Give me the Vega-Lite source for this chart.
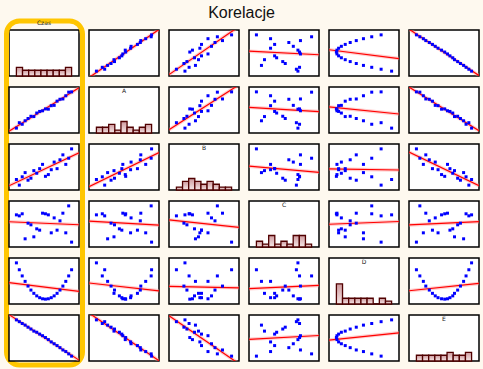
{
"$schema":"https://vega.github.io/schema/vega-lite/v6.json",
"background":"#fef9ef",
"padding":{"left":3,"top":5,"right":3,"bottom":2},
"title":{"text":"Korelacje","fontSize":16,"font":"Liberation Sans","fontWeight":"normal","color":"#111111","offset":-3.5,"anchor":"middle"},
"datasets":{
"d":[
{"Czas":1,"A":10.6,"B":22.8,"C":69.9,"D":100,"E":89.4},
{"Czas":2,"A":22.4,"B":10.6,"C":67.7,"D":81,"E":85.5},
{"Czas":3,"A":19.0,"B":28.7,"C":72.2,"D":64,"E":81.5},
{"Czas":4,"A":26.6,"B":37.8,"C":17.8,"D":49,"E":78.0},
{"Czas":5,"A":31.5,"B":21.3,"C":51.8,"D":36,"E":73.5},
{"Czas":6,"A":36.4,"B":25.6,"C":48.2,"D":25,"E":69.5},
{"Czas":7,"A":35.7,"B":42.1,"C":22.1,"D":16,"E":65.0},
{"Czas":8,"A":43.4,"B":36.4,"C":39.5,"D":9,"E":62.5},
{"Czas":9,"A":46.9,"B":46.4,"C":36.6,"D":4,"E":58.5},
{"Czas":10,"A":48.3,"B":55.7,"C":73.5,"D":1,"E":55.0},
{"Czas":11,"A":52.4,"B":29.7,"C":72.2,"D":0,"E":51.0},
{"Czas":12,"A":51.8,"B":33.5,"C":69.9,"D":1,"E":46.5},
{"Czas":13,"A":59.4,"B":44.1,"C":30.8,"D":4,"E":41.5},
{"Czas":14,"A":60.1,"B":60.7,"C":63.3,"D":9,"E":37.5},
{"Czas":15,"A":69.2,"B":46.4,"C":36.6,"D":16,"E":33.5},
{"Czas":16,"A":73.3,"B":65.7,"C":56.9,"D":25,"E":29.0},
{"Czas":17,"A":74.0,"B":76.4,"C":73.5,"D":36,"E":24.0},
{"Czas":18,"A":81.0,"B":55.7,"C":30.8,"D":49,"E":20.5},
{"Czas":19,"A":88.8,"B":69.1,"C":89.4,"D":64,"E":15.5},
{"Czas":20,"A":89.4,"B":89.4,"C":10.6,"D":81,"E":10.6}
],
"h":[
{"v":"Czas","lo":1,"hi":3.111,"n":3},{"v":"Czas","lo":3.111,"hi":5.222,"n":2},{"v":"Czas","lo":5.222,"hi":7.333,"n":2},{"v":"Czas","lo":7.333,"hi":9.444,"n":2},{"v":"Czas","lo":9.444,"hi":11.556,"n":2},{"v":"Czas","lo":11.556,"hi":13.667,"n":2},{"v":"Czas","lo":13.667,"hi":15.778,"n":2},{"v":"Czas","lo":15.778,"hi":17.889,"n":2},{"v":"Czas","lo":17.889,"hi":20,"n":3},
{"v":"A","lo":10.6,"hi":19.356,"n":2},{"v":"A","lo":19.356,"hi":28.111,"n":2},{"v":"A","lo":28.111,"hi":36.867,"n":3},{"v":"A","lo":36.867,"hi":45.622,"n":1},{"v":"A","lo":45.622,"hi":54.378,"n":4},{"v":"A","lo":54.378,"hi":63.133,"n":2},{"v":"A","lo":63.133,"hi":71.889,"n":1},{"v":"A","lo":71.889,"hi":80.644,"n":2},{"v":"A","lo":80.644,"hi":89.4,"n":3},
{"v":"B","lo":10.6,"hi":19.356,"n":1},{"v":"B","lo":19.356,"hi":28.111,"n":3},{"v":"B","lo":28.111,"hi":36.867,"n":4},{"v":"B","lo":36.867,"hi":45.622,"n":3},{"v":"B","lo":45.622,"hi":54.378,"n":2},{"v":"B","lo":54.378,"hi":63.133,"n":3},{"v":"B","lo":63.133,"hi":71.889,"n":2},{"v":"B","lo":71.889,"hi":80.644,"n":1},{"v":"B","lo":80.644,"hi":89.4,"n":1},
{"v":"C","lo":10.6,"hi":19.356,"n":2},{"v":"C","lo":19.356,"hi":28.111,"n":1},{"v":"C","lo":28.111,"hi":36.867,"n":4},{"v":"C","lo":36.867,"hi":45.622,"n":1},{"v":"C","lo":45.622,"hi":54.378,"n":2},{"v":"C","lo":54.378,"hi":63.133,"n":1},{"v":"C","lo":63.133,"hi":71.889,"n":4},{"v":"C","lo":71.889,"hi":80.644,"n":4},{"v":"C","lo":80.644,"hi":89.4,"n":1},
{"v":"D","lo":0,"hi":11.111,"n":7},{"v":"D","lo":11.111,"hi":22.222,"n":2},{"v":"D","lo":22.222,"hi":33.333,"n":2},{"v":"D","lo":33.333,"hi":44.444,"n":2},{"v":"D","lo":44.444,"hi":55.556,"n":2},{"v":"D","lo":55.556,"hi":66.667,"n":2},{"v":"D","lo":66.667,"hi":77.778,"n":0},{"v":"D","lo":77.778,"hi":88.889,"n":2},{"v":"D","lo":88.889,"hi":100,"n":1},
{"v":"E","lo":10.6,"hi":19.356,"n":2},{"v":"E","lo":19.356,"hi":28.111,"n":2},{"v":"E","lo":28.111,"hi":36.867,"n":2},{"v":"E","lo":36.867,"hi":45.622,"n":2},{"v":"E","lo":45.622,"hi":54.378,"n":2},{"v":"E","lo":54.378,"hi":63.133,"n":3},{"v":"E","lo":63.133,"hi":71.889,"n":2},{"v":"E","lo":71.889,"hi":80.644,"n":2},{"v":"E","lo":80.644,"hi":89.4,"n":3}
]
},
"columns":6,
"spacing":{"row":11,"column":10},
"bounds":"flush",
"concat":[
{"width":70,"height":46,"title":"Czas","layer":[
 {"data":{"name":"h"},"transform":[{"filter":"datum.v==='Czas'"}],"mark":{"type":"rect","stroke":"#500000","strokeWidth":1.3,"fill":{"gradient":"linear","x1":0,"y1":0,"x2":0,"y2":1,"stops":[{"offset":0,"color":"#cf9a9e"},{"offset":1,"color":"#f6e8e8"}]}},"encoding":{"x":{"field":"lo","type":"quantitative","scale":{"domain":[-1.55,22.55],"nice":false,"zero":false}},"x2":{"field":"hi"},"y":{"field":"n","type":"quantitative","scale":{"domain":[0,16],"nice":false}},"y2":{"datum":0}}},
 {"data":{"values":[{"frame":"Czas"}]},"mark":{"type":"rect","filled":false,"stroke":"#ffc600","strokeWidth":5,"cornerRadius":13},"encoding":{"x":{"value":-2.5},"x2":{"value":73.5},"y":{"value":-9},"y2":{"value":335}}}
]},
{"width":70,"height":46,"data":{"name":"d"},"encoding":{"x":{"field":"A","type":"quantitative","scale":{"domain":[0,100],"nice":false,"zero":false}},"y":{"field":"Czas","type":"quantitative","scale":{"domain":[-1.55,22.55],"nice":false,"zero":false}}},"layer":[{"transform":[{"regression":"Czas","on":"A","extent":[0,100]}],"mark":{"type":"line","stroke":"#ff9494","strokeWidth":3.5,"opacity":0.45,"clip":true}},{"transform":[{"regression":"Czas","on":"A","extent":[0,100]}],"mark":{"type":"line","stroke":"#ff0000","strokeWidth":1.2,"clip":true}},{"mark":{"type":"square","size":9,"fill":"#0000ff","opacity":1}}]},
{"width":70,"height":46,"data":{"name":"d"},"encoding":{"x":{"field":"B","type":"quantitative","scale":{"domain":[0,100],"nice":false,"zero":false}},"y":{"field":"Czas","type":"quantitative","scale":{"domain":[-1.55,22.55],"nice":false,"zero":false}}},"layer":[{"transform":[{"regression":"Czas","on":"B","extent":[0,100]}],"mark":{"type":"line","stroke":"#ff9494","strokeWidth":3.5,"opacity":0.45,"clip":true}},{"transform":[{"regression":"Czas","on":"B","extent":[0,100]}],"mark":{"type":"line","stroke":"#ff0000","strokeWidth":1.2,"clip":true}},{"mark":{"type":"square","size":9,"fill":"#0000ff","opacity":1}}]},
{"width":70,"height":46,"data":{"name":"d"},"encoding":{"x":{"field":"C","type":"quantitative","scale":{"domain":[0,100],"nice":false,"zero":false}},"y":{"field":"Czas","type":"quantitative","scale":{"domain":[-1.55,22.55],"nice":false,"zero":false}}},"layer":[{"transform":[{"regression":"Czas","on":"C","extent":[0,100]}],"mark":{"type":"line","stroke":"#ff9494","strokeWidth":3.5,"opacity":0.45,"clip":true}},{"transform":[{"regression":"Czas","on":"C","extent":[0,100]}],"mark":{"type":"line","stroke":"#ff0000","strokeWidth":1.2,"clip":true}},{"mark":{"type":"square","size":9,"fill":"#0000ff","opacity":1}}]},
{"width":70,"height":46,"data":{"name":"d"},"encoding":{"x":{"field":"D","type":"quantitative","scale":{"domain":[-13.4,113.4],"nice":false,"zero":false}},"y":{"field":"Czas","type":"quantitative","scale":{"domain":[-1.55,22.55],"nice":false,"zero":false}}},"layer":[{"transform":[{"regression":"Czas","on":"D","extent":[-13.4,113.4]}],"mark":{"type":"line","stroke":"#ff9494","strokeWidth":3.5,"opacity":0.45,"clip":true}},{"transform":[{"regression":"Czas","on":"D","extent":[-13.4,113.4]}],"mark":{"type":"line","stroke":"#ff0000","strokeWidth":1.2,"clip":true}},{"mark":{"type":"square","size":9,"fill":"#0000ff","opacity":1}}]},
{"width":70,"height":46,"data":{"name":"d"},"encoding":{"x":{"field":"E","type":"quantitative","scale":{"domain":[0,100],"nice":false,"zero":false}},"y":{"field":"Czas","type":"quantitative","scale":{"domain":[-1.55,22.55],"nice":false,"zero":false}}},"layer":[{"transform":[{"regression":"Czas","on":"E","extent":[0,100]}],"mark":{"type":"line","stroke":"#ff9494","strokeWidth":3.5,"opacity":0.45,"clip":true}},{"transform":[{"regression":"Czas","on":"E","extent":[0,100]}],"mark":{"type":"line","stroke":"#ff0000","strokeWidth":1.2,"clip":true}},{"mark":{"type":"square","size":9,"fill":"#0000ff","opacity":1}}]},

{"width":70,"height":46,"data":{"name":"d"},"encoding":{"x":{"field":"Czas","type":"quantitative","scale":{"domain":[-1.55,22.55],"nice":false,"zero":false}},"y":{"field":"A","type":"quantitative","scale":{"domain":[0,100],"nice":false,"zero":false}}},"layer":[{"transform":[{"regression":"A","on":"Czas","extent":[-1.55,22.55]}],"mark":{"type":"line","stroke":"#ff9494","strokeWidth":3.5,"opacity":0.45,"clip":true}},{"transform":[{"regression":"A","on":"Czas","extent":[-1.55,22.55]}],"mark":{"type":"line","stroke":"#ff0000","strokeWidth":1.2,"clip":true}},{"mark":{"type":"square","size":9,"fill":"#0000ff","opacity":1}}]},
{"width":70,"height":46,"data":{"name":"h"},"transform":[{"filter":"datum.v==='A'"}],"title":"A","mark":{"type":"rect","stroke":"#500000","strokeWidth":1.3,"fill":{"gradient":"linear","x1":0,"y1":0,"x2":0,"y2":1,"stops":[{"offset":0,"color":"#cf9a9e"},{"offset":1,"color":"#f6e8e8"}]}},"encoding":{"x":{"field":"lo","type":"quantitative","scale":{"domain":[0,100],"nice":false,"zero":false}},"x2":{"field":"hi"},"y":{"field":"n","type":"quantitative","scale":{"domain":[0,16],"nice":false}},"y2":{"datum":0}}},
{"width":70,"height":46,"data":{"name":"d"},"encoding":{"x":{"field":"B","type":"quantitative","scale":{"domain":[0,100],"nice":false,"zero":false}},"y":{"field":"A","type":"quantitative","scale":{"domain":[0,100],"nice":false,"zero":false}}},"layer":[{"transform":[{"regression":"A","on":"B","extent":[0,100]}],"mark":{"type":"line","stroke":"#ff9494","strokeWidth":3.5,"opacity":0.45,"clip":true}},{"transform":[{"regression":"A","on":"B","extent":[0,100]}],"mark":{"type":"line","stroke":"#ff0000","strokeWidth":1.2,"clip":true}},{"mark":{"type":"square","size":9,"fill":"#0000ff","opacity":1}}]},
{"width":70,"height":46,"data":{"name":"d"},"encoding":{"x":{"field":"C","type":"quantitative","scale":{"domain":[0,100],"nice":false,"zero":false}},"y":{"field":"A","type":"quantitative","scale":{"domain":[0,100],"nice":false,"zero":false}}},"layer":[{"transform":[{"regression":"A","on":"C","extent":[0,100]}],"mark":{"type":"line","stroke":"#ff9494","strokeWidth":3.5,"opacity":0.45,"clip":true}},{"transform":[{"regression":"A","on":"C","extent":[0,100]}],"mark":{"type":"line","stroke":"#ff0000","strokeWidth":1.2,"clip":true}},{"mark":{"type":"square","size":9,"fill":"#0000ff","opacity":1}}]},
{"width":70,"height":46,"data":{"name":"d"},"encoding":{"x":{"field":"D","type":"quantitative","scale":{"domain":[-13.4,113.4],"nice":false,"zero":false}},"y":{"field":"A","type":"quantitative","scale":{"domain":[0,100],"nice":false,"zero":false}}},"layer":[{"transform":[{"regression":"A","on":"D","extent":[-13.4,113.4]}],"mark":{"type":"line","stroke":"#ff9494","strokeWidth":3.5,"opacity":0.45,"clip":true}},{"transform":[{"regression":"A","on":"D","extent":[-13.4,113.4]}],"mark":{"type":"line","stroke":"#ff0000","strokeWidth":1.2,"clip":true}},{"mark":{"type":"square","size":9,"fill":"#0000ff","opacity":1}}]},
{"width":70,"height":46,"data":{"name":"d"},"encoding":{"x":{"field":"E","type":"quantitative","scale":{"domain":[0,100],"nice":false,"zero":false}},"y":{"field":"A","type":"quantitative","scale":{"domain":[0,100],"nice":false,"zero":false}}},"layer":[{"transform":[{"regression":"A","on":"E","extent":[0,100]}],"mark":{"type":"line","stroke":"#ff9494","strokeWidth":3.5,"opacity":0.45,"clip":true}},{"transform":[{"regression":"A","on":"E","extent":[0,100]}],"mark":{"type":"line","stroke":"#ff0000","strokeWidth":1.2,"clip":true}},{"mark":{"type":"square","size":9,"fill":"#0000ff","opacity":1}}]},

{"width":70,"height":46,"data":{"name":"d"},"encoding":{"x":{"field":"Czas","type":"quantitative","scale":{"domain":[-1.55,22.55],"nice":false,"zero":false}},"y":{"field":"B","type":"quantitative","scale":{"domain":[0,100],"nice":false,"zero":false}}},"layer":[{"transform":[{"regression":"B","on":"Czas","extent":[-1.55,22.55]}],"mark":{"type":"line","stroke":"#ff9494","strokeWidth":3.5,"opacity":0.45,"clip":true}},{"transform":[{"regression":"B","on":"Czas","extent":[-1.55,22.55]}],"mark":{"type":"line","stroke":"#ff0000","strokeWidth":1.2,"clip":true}},{"mark":{"type":"square","size":9,"fill":"#0000ff","opacity":1}}]},
{"width":70,"height":46,"data":{"name":"d"},"encoding":{"x":{"field":"A","type":"quantitative","scale":{"domain":[0,100],"nice":false,"zero":false}},"y":{"field":"B","type":"quantitative","scale":{"domain":[0,100],"nice":false,"zero":false}}},"layer":[{"transform":[{"regression":"B","on":"A","extent":[0,100]}],"mark":{"type":"line","stroke":"#ff9494","strokeWidth":3.5,"opacity":0.45,"clip":true}},{"transform":[{"regression":"B","on":"A","extent":[0,100]}],"mark":{"type":"line","stroke":"#ff0000","strokeWidth":1.2,"clip":true}},{"mark":{"type":"square","size":9,"fill":"#0000ff","opacity":1}}]},
{"width":70,"height":46,"data":{"name":"h"},"transform":[{"filter":"datum.v==='B'"}],"title":"B","mark":{"type":"rect","stroke":"#500000","strokeWidth":1.3,"fill":{"gradient":"linear","x1":0,"y1":0,"x2":0,"y2":1,"stops":[{"offset":0,"color":"#cf9a9e"},{"offset":1,"color":"#f6e8e8"}]}},"encoding":{"x":{"field":"lo","type":"quantitative","scale":{"domain":[0,100],"nice":false,"zero":false}},"x2":{"field":"hi"},"y":{"field":"n","type":"quantitative","scale":{"domain":[0,16],"nice":false}},"y2":{"datum":0}}},
{"width":70,"height":46,"data":{"name":"d"},"encoding":{"x":{"field":"C","type":"quantitative","scale":{"domain":[0,100],"nice":false,"zero":false}},"y":{"field":"B","type":"quantitative","scale":{"domain":[0,100],"nice":false,"zero":false}}},"layer":[{"transform":[{"regression":"B","on":"C","extent":[0,100]}],"mark":{"type":"line","stroke":"#ff9494","strokeWidth":3.5,"opacity":0.45,"clip":true}},{"transform":[{"regression":"B","on":"C","extent":[0,100]}],"mark":{"type":"line","stroke":"#ff0000","strokeWidth":1.2,"clip":true}},{"mark":{"type":"square","size":9,"fill":"#0000ff","opacity":1}}]},
{"width":70,"height":46,"data":{"name":"d"},"encoding":{"x":{"field":"D","type":"quantitative","scale":{"domain":[-13.4,113.4],"nice":false,"zero":false}},"y":{"field":"B","type":"quantitative","scale":{"domain":[0,100],"nice":false,"zero":false}}},"layer":[{"transform":[{"regression":"B","on":"D","extent":[-13.4,113.4]}],"mark":{"type":"line","stroke":"#ff9494","strokeWidth":3.5,"opacity":0.45,"clip":true}},{"transform":[{"regression":"B","on":"D","extent":[-13.4,113.4]}],"mark":{"type":"line","stroke":"#ff0000","strokeWidth":1.2,"clip":true}},{"mark":{"type":"square","size":9,"fill":"#0000ff","opacity":1}}]},
{"width":70,"height":46,"data":{"name":"d"},"encoding":{"x":{"field":"E","type":"quantitative","scale":{"domain":[0,100],"nice":false,"zero":false}},"y":{"field":"B","type":"quantitative","scale":{"domain":[0,100],"nice":false,"zero":false}}},"layer":[{"transform":[{"regression":"B","on":"E","extent":[0,100]}],"mark":{"type":"line","stroke":"#ff9494","strokeWidth":3.5,"opacity":0.45,"clip":true}},{"transform":[{"regression":"B","on":"E","extent":[0,100]}],"mark":{"type":"line","stroke":"#ff0000","strokeWidth":1.2,"clip":true}},{"mark":{"type":"square","size":9,"fill":"#0000ff","opacity":1}}]},

{"width":70,"height":46,"data":{"name":"d"},"encoding":{"x":{"field":"Czas","type":"quantitative","scale":{"domain":[-1.55,22.55],"nice":false,"zero":false}},"y":{"field":"C","type":"quantitative","scale":{"domain":[0,100],"nice":false,"zero":false}}},"layer":[{"transform":[{"regression":"C","on":"Czas","extent":[-1.55,22.55]}],"mark":{"type":"line","stroke":"#ff9494","strokeWidth":3.5,"opacity":0.45,"clip":true}},{"transform":[{"regression":"C","on":"Czas","extent":[-1.55,22.55]}],"mark":{"type":"line","stroke":"#ff0000","strokeWidth":1.2,"clip":true}},{"mark":{"type":"square","size":9,"fill":"#0000ff","opacity":1}}]},
{"width":70,"height":46,"data":{"name":"d"},"encoding":{"x":{"field":"A","type":"quantitative","scale":{"domain":[0,100],"nice":false,"zero":false}},"y":{"field":"C","type":"quantitative","scale":{"domain":[0,100],"nice":false,"zero":false}}},"layer":[{"transform":[{"regression":"C","on":"A","extent":[0,100]}],"mark":{"type":"line","stroke":"#ff9494","strokeWidth":3.5,"opacity":0.45,"clip":true}},{"transform":[{"regression":"C","on":"A","extent":[0,100]}],"mark":{"type":"line","stroke":"#ff0000","strokeWidth":1.2,"clip":true}},{"mark":{"type":"square","size":9,"fill":"#0000ff","opacity":1}}]},
{"width":70,"height":46,"data":{"name":"d"},"encoding":{"x":{"field":"B","type":"quantitative","scale":{"domain":[0,100],"nice":false,"zero":false}},"y":{"field":"C","type":"quantitative","scale":{"domain":[0,100],"nice":false,"zero":false}}},"layer":[{"transform":[{"regression":"C","on":"B","extent":[0,100]}],"mark":{"type":"line","stroke":"#ff9494","strokeWidth":3.5,"opacity":0.45,"clip":true}},{"transform":[{"regression":"C","on":"B","extent":[0,100]}],"mark":{"type":"line","stroke":"#ff0000","strokeWidth":1.2,"clip":true}},{"mark":{"type":"square","size":9,"fill":"#0000ff","opacity":1}}]},
{"width":70,"height":46,"data":{"name":"h"},"transform":[{"filter":"datum.v==='C'"}],"title":"C","mark":{"type":"rect","stroke":"#500000","strokeWidth":1.3,"fill":{"gradient":"linear","x1":0,"y1":0,"x2":0,"y2":1,"stops":[{"offset":0,"color":"#cf9a9e"},{"offset":1,"color":"#f6e8e8"}]}},"encoding":{"x":{"field":"lo","type":"quantitative","scale":{"domain":[0,100],"nice":false,"zero":false}},"x2":{"field":"hi"},"y":{"field":"n","type":"quantitative","scale":{"domain":[0,16],"nice":false}},"y2":{"datum":0}}},
{"width":70,"height":46,"data":{"name":"d"},"encoding":{"x":{"field":"D","type":"quantitative","scale":{"domain":[-13.4,113.4],"nice":false,"zero":false}},"y":{"field":"C","type":"quantitative","scale":{"domain":[0,100],"nice":false,"zero":false}}},"layer":[{"transform":[{"regression":"C","on":"D","extent":[-13.4,113.4]}],"mark":{"type":"line","stroke":"#ff9494","strokeWidth":3.5,"opacity":0.45,"clip":true}},{"transform":[{"regression":"C","on":"D","extent":[-13.4,113.4]}],"mark":{"type":"line","stroke":"#ff0000","strokeWidth":1.2,"clip":true}},{"mark":{"type":"square","size":9,"fill":"#0000ff","opacity":1}}]},
{"width":70,"height":46,"data":{"name":"d"},"encoding":{"x":{"field":"E","type":"quantitative","scale":{"domain":[0,100],"nice":false,"zero":false}},"y":{"field":"C","type":"quantitative","scale":{"domain":[0,100],"nice":false,"zero":false}}},"layer":[{"transform":[{"regression":"C","on":"E","extent":[0,100]}],"mark":{"type":"line","stroke":"#ff9494","strokeWidth":3.5,"opacity":0.45,"clip":true}},{"transform":[{"regression":"C","on":"E","extent":[0,100]}],"mark":{"type":"line","stroke":"#ff0000","strokeWidth":1.2,"clip":true}},{"mark":{"type":"square","size":9,"fill":"#0000ff","opacity":1}}]},

{"width":70,"height":46,"data":{"name":"d"},"encoding":{"x":{"field":"Czas","type":"quantitative","scale":{"domain":[-1.55,22.55],"nice":false,"zero":false}},"y":{"field":"D","type":"quantitative","scale":{"domain":[-13.4,113.4],"nice":false,"zero":false}}},"layer":[{"transform":[{"regression":"D","on":"Czas","extent":[-1.55,22.55]}],"mark":{"type":"line","stroke":"#ff9494","strokeWidth":3.5,"opacity":0.45,"clip":true}},{"transform":[{"regression":"D","on":"Czas","extent":[-1.55,22.55]}],"mark":{"type":"line","stroke":"#ff0000","strokeWidth":1.2,"clip":true}},{"mark":{"type":"square","size":9,"fill":"#0000ff","opacity":1}}]},
{"width":70,"height":46,"data":{"name":"d"},"encoding":{"x":{"field":"A","type":"quantitative","scale":{"domain":[0,100],"nice":false,"zero":false}},"y":{"field":"D","type":"quantitative","scale":{"domain":[-13.4,113.4],"nice":false,"zero":false}}},"layer":[{"transform":[{"regression":"D","on":"A","extent":[0,100]}],"mark":{"type":"line","stroke":"#ff9494","strokeWidth":3.5,"opacity":0.45,"clip":true}},{"transform":[{"regression":"D","on":"A","extent":[0,100]}],"mark":{"type":"line","stroke":"#ff0000","strokeWidth":1.2,"clip":true}},{"mark":{"type":"square","size":9,"fill":"#0000ff","opacity":1}}]},
{"width":70,"height":46,"data":{"name":"d"},"encoding":{"x":{"field":"B","type":"quantitative","scale":{"domain":[0,100],"nice":false,"zero":false}},"y":{"field":"D","type":"quantitative","scale":{"domain":[-13.4,113.4],"nice":false,"zero":false}}},"layer":[{"transform":[{"regression":"D","on":"B","extent":[0,100]}],"mark":{"type":"line","stroke":"#ff9494","strokeWidth":3.5,"opacity":0.45,"clip":true}},{"transform":[{"regression":"D","on":"B","extent":[0,100]}],"mark":{"type":"line","stroke":"#ff0000","strokeWidth":1.2,"clip":true}},{"mark":{"type":"square","size":9,"fill":"#0000ff","opacity":1}}]},
{"width":70,"height":46,"data":{"name":"d"},"encoding":{"x":{"field":"C","type":"quantitative","scale":{"domain":[0,100],"nice":false,"zero":false}},"y":{"field":"D","type":"quantitative","scale":{"domain":[-13.4,113.4],"nice":false,"zero":false}}},"layer":[{"transform":[{"regression":"D","on":"C","extent":[0,100]}],"mark":{"type":"line","stroke":"#ff9494","strokeWidth":3.5,"opacity":0.45,"clip":true}},{"transform":[{"regression":"D","on":"C","extent":[0,100]}],"mark":{"type":"line","stroke":"#ff0000","strokeWidth":1.2,"clip":true}},{"mark":{"type":"square","size":9,"fill":"#0000ff","opacity":1}}]},
{"width":70,"height":46,"data":{"name":"h"},"transform":[{"filter":"datum.v==='D'"}],"title":"D","mark":{"type":"rect","stroke":"#500000","strokeWidth":1.3,"fill":{"gradient":"linear","x1":0,"y1":0,"x2":0,"y2":1,"stops":[{"offset":0,"color":"#cf9a9e"},{"offset":1,"color":"#f6e8e8"}]}},"encoding":{"x":{"field":"lo","type":"quantitative","scale":{"domain":[-13.4,113.4],"nice":false,"zero":false}},"x2":{"field":"hi"},"y":{"field":"n","type":"quantitative","scale":{"domain":[0,16],"nice":false}},"y2":{"datum":0}}},
{"width":70,"height":46,"data":{"name":"d"},"encoding":{"x":{"field":"E","type":"quantitative","scale":{"domain":[0,100],"nice":false,"zero":false}},"y":{"field":"D","type":"quantitative","scale":{"domain":[-13.4,113.4],"nice":false,"zero":false}}},"layer":[{"transform":[{"regression":"D","on":"E","extent":[0,100]}],"mark":{"type":"line","stroke":"#ff9494","strokeWidth":3.5,"opacity":0.45,"clip":true}},{"transform":[{"regression":"D","on":"E","extent":[0,100]}],"mark":{"type":"line","stroke":"#ff0000","strokeWidth":1.2,"clip":true}},{"mark":{"type":"square","size":9,"fill":"#0000ff","opacity":1}}]},

{"width":70,"height":46,"data":{"name":"d"},"encoding":{"x":{"field":"Czas","type":"quantitative","scale":{"domain":[-1.55,22.55],"nice":false,"zero":false}},"y":{"field":"E","type":"quantitative","scale":{"domain":[0,100],"nice":false,"zero":false}}},"layer":[{"transform":[{"regression":"E","on":"Czas","extent":[-1.55,22.55]}],"mark":{"type":"line","stroke":"#ff9494","strokeWidth":3.5,"opacity":0.45,"clip":true}},{"transform":[{"regression":"E","on":"Czas","extent":[-1.55,22.55]}],"mark":{"type":"line","stroke":"#ff0000","strokeWidth":1.2,"clip":true}},{"mark":{"type":"square","size":9,"fill":"#0000ff","opacity":1}}]},
{"width":70,"height":46,"data":{"name":"d"},"encoding":{"x":{"field":"A","type":"quantitative","scale":{"domain":[0,100],"nice":false,"zero":false}},"y":{"field":"E","type":"quantitative","scale":{"domain":[0,100],"nice":false,"zero":false}}},"layer":[{"transform":[{"regression":"E","on":"A","extent":[0,100]}],"mark":{"type":"line","stroke":"#ff9494","strokeWidth":3.5,"opacity":0.45,"clip":true}},{"transform":[{"regression":"E","on":"A","extent":[0,100]}],"mark":{"type":"line","stroke":"#ff0000","strokeWidth":1.2,"clip":true}},{"mark":{"type":"square","size":9,"fill":"#0000ff","opacity":1}}]},
{"width":70,"height":46,"data":{"name":"d"},"encoding":{"x":{"field":"B","type":"quantitative","scale":{"domain":[0,100],"nice":false,"zero":false}},"y":{"field":"E","type":"quantitative","scale":{"domain":[0,100],"nice":false,"zero":false}}},"layer":[{"transform":[{"regression":"E","on":"B","extent":[0,100]}],"mark":{"type":"line","stroke":"#ff9494","strokeWidth":3.5,"opacity":0.45,"clip":true}},{"transform":[{"regression":"E","on":"B","extent":[0,100]}],"mark":{"type":"line","stroke":"#ff0000","strokeWidth":1.2,"clip":true}},{"mark":{"type":"square","size":9,"fill":"#0000ff","opacity":1}}]},
{"width":70,"height":46,"data":{"name":"d"},"encoding":{"x":{"field":"C","type":"quantitative","scale":{"domain":[0,100],"nice":false,"zero":false}},"y":{"field":"E","type":"quantitative","scale":{"domain":[0,100],"nice":false,"zero":false}}},"layer":[{"transform":[{"regression":"E","on":"C","extent":[0,100]}],"mark":{"type":"line","stroke":"#ff9494","strokeWidth":3.5,"opacity":0.45,"clip":true}},{"transform":[{"regression":"E","on":"C","extent":[0,100]}],"mark":{"type":"line","stroke":"#ff0000","strokeWidth":1.2,"clip":true}},{"mark":{"type":"square","size":9,"fill":"#0000ff","opacity":1}}]},
{"width":70,"height":46,"data":{"name":"d"},"encoding":{"x":{"field":"D","type":"quantitative","scale":{"domain":[-13.4,113.4],"nice":false,"zero":false}},"y":{"field":"E","type":"quantitative","scale":{"domain":[0,100],"nice":false,"zero":false}}},"layer":[{"transform":[{"regression":"E","on":"D","extent":[-13.4,113.4]}],"mark":{"type":"line","stroke":"#ff9494","strokeWidth":3.5,"opacity":0.45,"clip":true}},{"transform":[{"regression":"E","on":"D","extent":[-13.4,113.4]}],"mark":{"type":"line","stroke":"#ff0000","strokeWidth":1.2,"clip":true}},{"mark":{"type":"square","size":9,"fill":"#0000ff","opacity":1}}]},
{"width":70,"height":46,"data":{"name":"h"},"transform":[{"filter":"datum.v==='E'"}],"title":"E","mark":{"type":"rect","stroke":"#500000","strokeWidth":1.3,"fill":{"gradient":"linear","x1":0,"y1":0,"x2":0,"y2":1,"stops":[{"offset":0,"color":"#cf9a9e"},{"offset":1,"color":"#f6e8e8"}]}},"encoding":{"x":{"field":"lo","type":"quantitative","scale":{"domain":[0,100],"nice":false,"zero":false}},"x2":{"field":"hi"},"y":{"field":"n","type":"quantitative","scale":{"domain":[0,16],"nice":false}},"y2":{"datum":0}}}
],
"config":{"view":{"stroke":"#000000","strokeWidth":1.5,"fill":"#ffffff"},"axis":{"disable":true},"title":{"fontSize":6,"offset":-7,"fontWeight":"normal","color":"#222222","font":"DejaVu Sans","anchor":"middle"}}
}
